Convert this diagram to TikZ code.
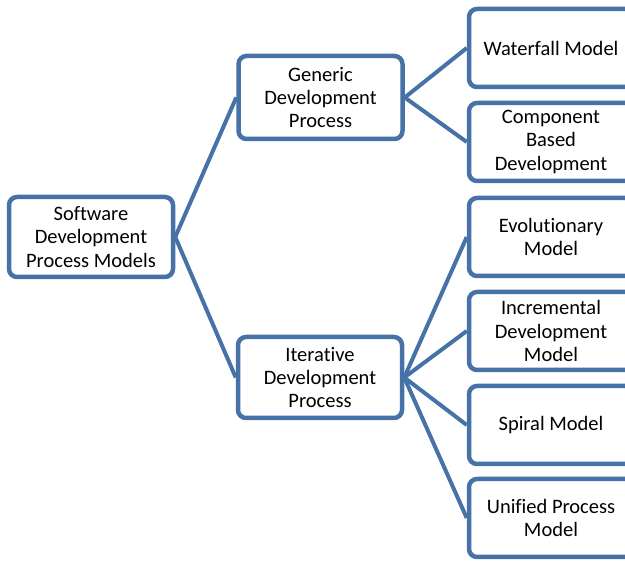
\documentclass[tikz,border=0pt]{standalone}
\usepackage{fontspec}
\setmainfont{Carlito}[Ligatures=NoCommon]
\definecolor{boxblue}{RGB}{70,114,168}
\begin{document}
\begin{tikzpicture}[x=1pt,y=-1pt,
  box/.style={draw=boxblue, line width=4.5pt, fill=white, rounded corners=8pt,
    minimum width=164pt, minimum height=80pt, align=center, inner sep=2pt,
    font=\fontsize{20.5}{23.3}\selectfont},
  leaf/.style={box, minimum height=78pt},
  conn/.style={draw=boxblue, line width=4pt}]
\useasboundingbox (0,0) rectangle (625,561);
\node[box] (root) at (91,237) {Software\\Development\\Process Models};
\node[box, minimum height=83pt] (gen) at (320.5,97.5) {Generic\\Development\\Process};
\node[box, minimum height=81pt] (iter) at (320,377.5) {Iterative\\Development\\Process};
\node[leaf] (wf) at (551,48) {Waterfall Model};
\node[leaf] (cb) at (551,142) {Component\\Based\\Development};
\node[leaf] (ev) at (551,237) {Evolutionary\\Model};
\node[leaf] (inc) at (551,331) {Incremental\\Development\\Model};
\node[leaf] (sp) at (551,425) {Spiral Model};
\node[leaf] (up) at (551,518) {Unified Process\\Model};
\draw[conn] (root.east) -- (gen.west);
\draw[conn] (root.east) -- (iter.west);
\draw[conn] (gen.east) -- (wf.west);
\draw[conn] (gen.east) -- (cb.west);
\draw[conn] (iter.east) -- (ev.west);
\draw[conn] (iter.east) -- (inc.west);
\draw[conn] (iter.east) -- (sp.west);
\draw[conn] (iter.east) -- (up.west);
\end{tikzpicture}
\end{document}
